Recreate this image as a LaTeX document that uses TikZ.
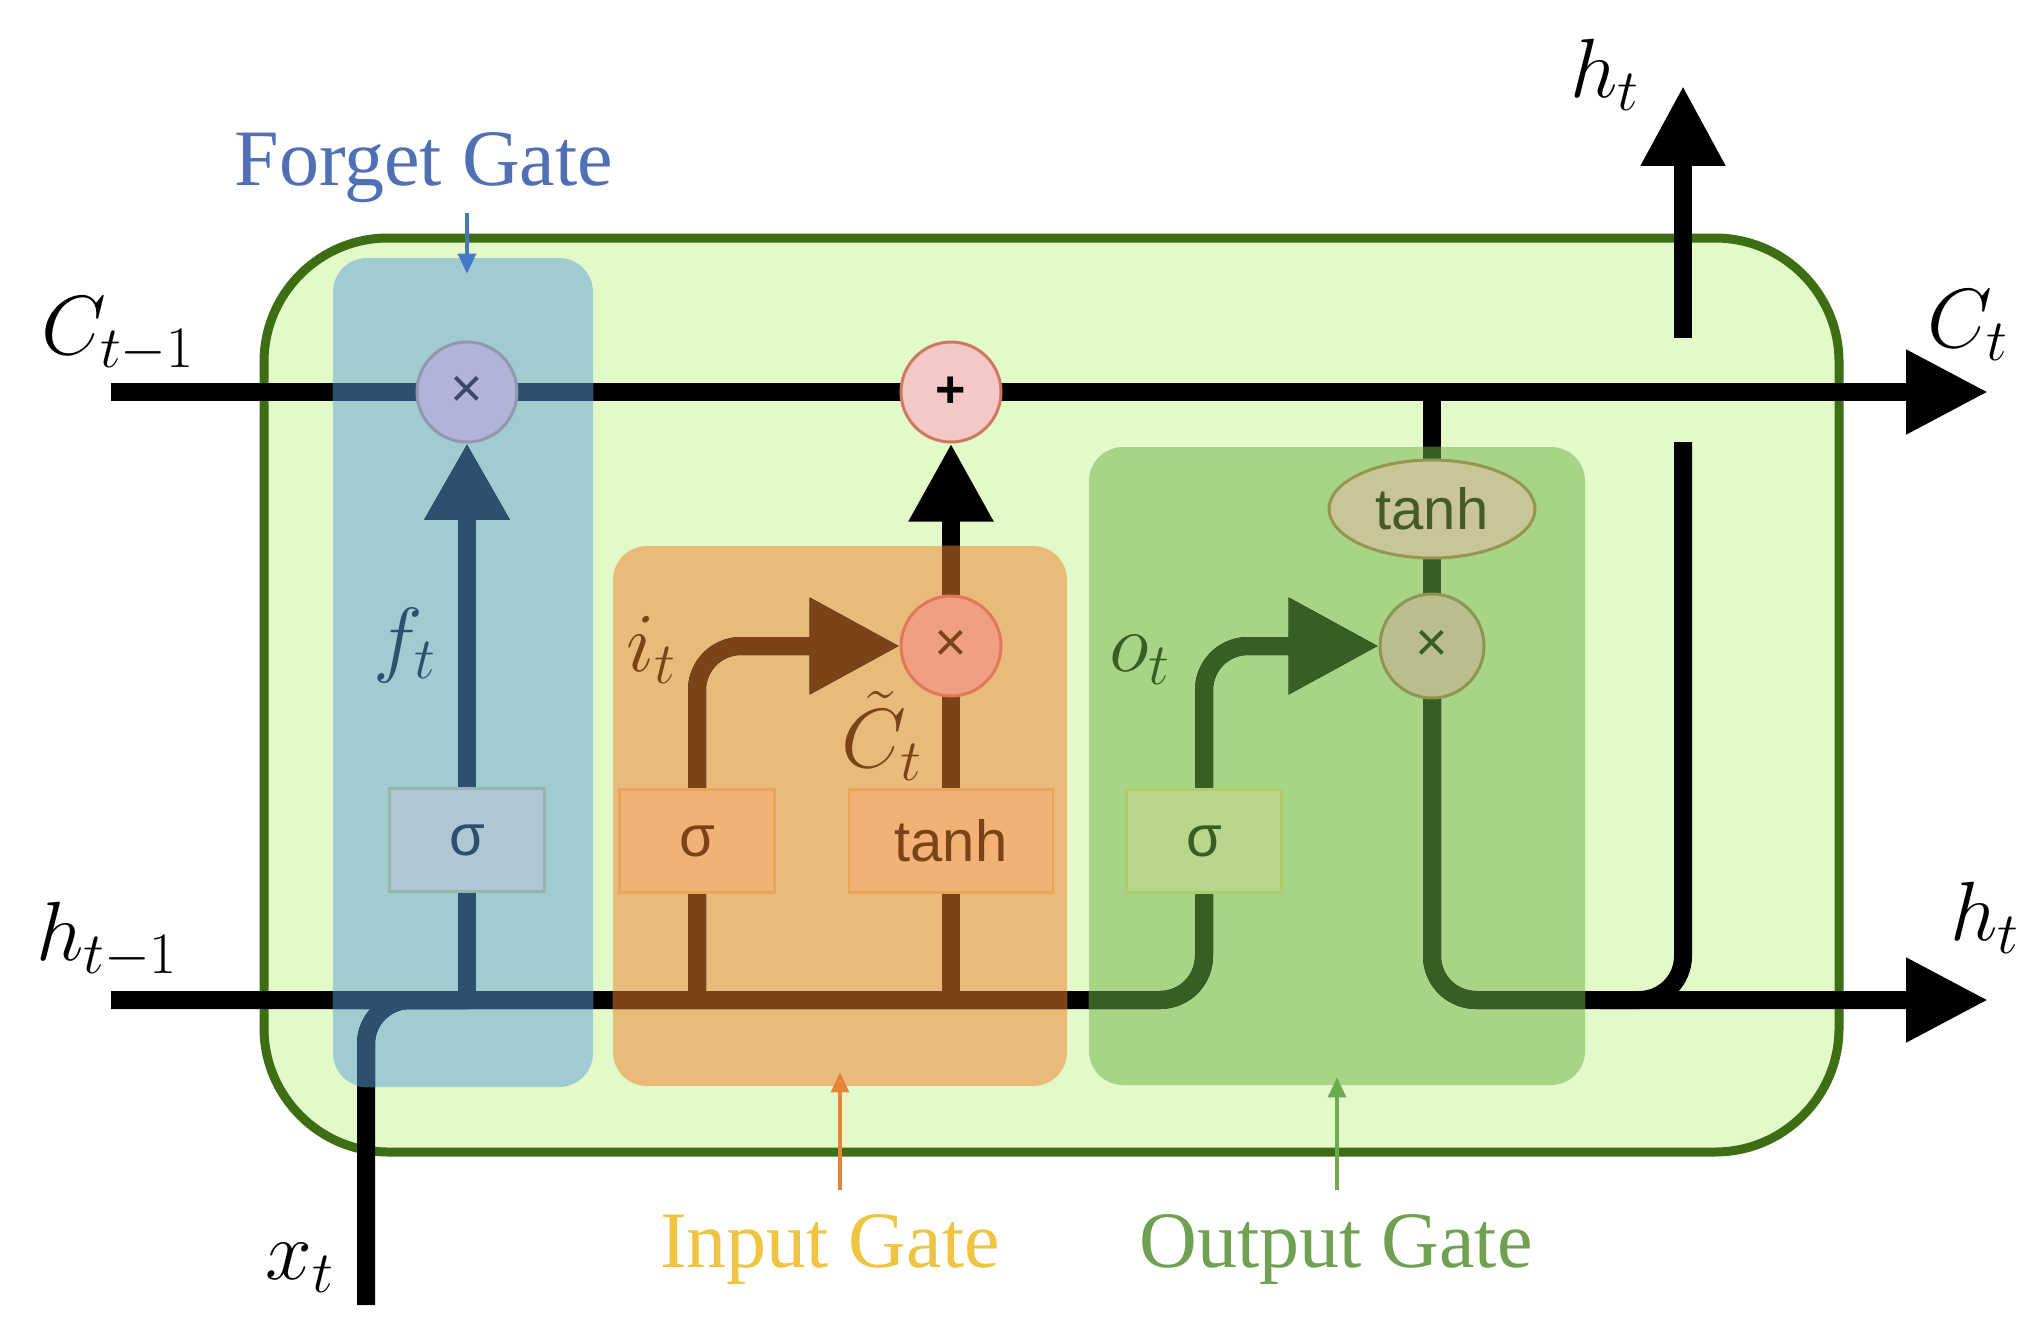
\RequirePackage{fix-cm}
\documentclass[tikz,border=0pt]{standalone}
\usepackage{fontspec}
\setmainfont{Liberation Serif}
\newfontfamily\lsans{Liberation Sans}
\usetikzlibrary{arrows.meta,shapes.geometric,calc}
\pgfdeclarelayer{bg}
\pgfdeclarelayer{lines}
\pgfsetlayers{bg,lines,main}

\definecolor{cellfill}{RGB}{226,250,200}
\definecolor{celldraw}{RGB}{62,110,20}
\definecolor{fgfill}{RGB}{160,203,208}
\definecolor{infill}{RGB}{232,187,122}
\definecolor{outfill}{RGB}{168,212,136}
\definecolor{fgdark}{RGB}{45,80,110}
\definecolor{indark}{RGB}{122,68,24}
\definecolor{outdark}{RGB}{55,95,35}
\definecolor{fglabc}{RGB}{80,112,182}
\definecolor{inlabc}{RGB}{238,196,64}
\definecolor{outlabc}{RGB}{112,160,82}
\definecolor{inarrc}{RGB}{232,130,56}
\definecolor{fgarrc}{RGB}{70,120,200}
\definecolor{outarrc}{RGB}{110,170,80}
\colorlet{flowc}{black}

\newcommand\lstmflows{%
  \draw[flow,-{Triangle[length=41pt,width=40pt]}] (cin) -- (fx.center) -- (plus.center) -- (cout);
  \draw[flow,rounded corners=22pt,-{Triangle[length=45pt,width=46pt]}] (hin) -| (os |- ox) -- (ox.west);
  \draw[flow,rounded corners=22pt] (xin) |- (fs |- hin);
  \draw[flow,-{Triangle[length=38pt,width=40pt]}] (fs |- hin) -- (fx.south);
  \draw[flow,rounded corners=22pt,-{Triangle[length=45pt,width=46pt]}] (is |- hin) -- (is |- ix) -- (ix.west);
  \draw[flow] (it |- hin) -- (ix.center);
  \draw[flow,-{Triangle[length=39pt,width=40pt]}] (ix.north) -- (plus.south);
  \draw[flow] (ot |- cin) -- (ox.center);
  \draw[flow,rounded corners=22pt,-{Triangle[length=41pt,width=40pt]}] (ox.center) |- (hout);
  \draw[flow,rounded corners=22pt] (hbr) -| (gapb);
  \draw[flow,-{Triangle[length=40pt,width=40pt]}] (gapt) -- (hup);
}

\begin{document}
\begin{tikzpicture}[x=0.5pt,y=-0.5pt,
  flow/.style={line width=9pt, draw=flowc},
  gatebox/.style={rectangle, rounded corners=17pt, inner sep=0pt},
  opcirc/.style={circle, minimum size=50pt, inner sep=0pt, line width=1.5pt, font=\lsans\fontsize{28}{30}\selectfont},
  actbox/.style={rectangle, minimum height=51.5pt, inner sep=0pt, line width=1.2pt, font=\lsans\fontsize{29}{32}\selectfont},
  mlab/.style={inner sep=0pt, font=\fontsize{42}{50}\selectfont},
  glab/.style={inner sep=0pt, anchor=base, font=\fontsize{40}{48}\selectfont},
  thinarr/.style={line width=1.6pt, -{Triangle[length=10pt,width=9pt]}}
]
\useasboundingbox (0,0) rectangle (2037,1332);

\begin{pgfonlayer}{bg}
\fill[white] (0,0) rectangle (2037,1332);
\node[rectangle, rounded corners=62pt, minimum width=787.5pt, minimum height=457pt,
      fill=cellfill, draw=celldraw, line width=4.5pt] (cell) at (1051.5,695) {};
\node[gatebox, fill=fgfill, minimum width=130pt, minimum height=414.5pt] (fgbox) at (463,672.5) {};
\node[gatebox, fill=infill, minimum width=227pt, minimum height=270pt] (inbox) at (840,816) {};
\node[gatebox, fill=outfill, minimum width=248pt, minimum height=319pt] (outbox) at (1337,766) {};
\end{pgfonlayer}

% operation nodes
\node[opcirc, fill={rgb,255:red,176;green,180;blue,216}, draw={rgb,255:red,148;green,150;blue,172}, text={rgb,255:red,60;green,72;blue,104}] (fx) at (467,392) {×};
\node[opcirc, fill={rgb,255:red,245;green,200;blue,200}, draw={rgb,255:red,205;green,120;blue,100}, font=\lsans\bfseries\fontsize{26}{30}\selectfont] (plus) at (951,392) {+};
\node[opcirc, fill={rgb,255:red,240;green,160;blue,130}, draw={rgb,255:red,225;green,120;blue,90}, text=indark] (ix) at (951,646) {×};
\node[opcirc, minimum size=52pt, fill={rgb,255:red,185;green,190;blue,140}, draw={rgb,255:red,140;green,150;blue,80}, text=outdark] (ox) at (1432,646) {×};
\node[ellipse, minimum width=103pt, minimum height=49pt, inner sep=0pt, line width=1.5pt,
      fill={rgb,255:red,200;green,198;blue,150}, draw={rgb,255:red,150;green,150;blue,80},
      text={rgb,255:red,70;green,90;blue,40}, font=\lsans\fontsize{29}{32}\selectfont] (ot) at (1432,509) {tanh};

\node[actbox, minimum width=77.5pt, fill={rgb,255:red,176;green,198;blue,212}, draw={rgb,255:red,150;green,180;blue,170}, text=fgdark] (fs) at (467,840) {σ};
\node[actbox, minimum width=77.5pt, fill={rgb,255:red,242;green,178;blue,118}, draw={rgb,255:red,235;green,165;blue,90}, text=indark] (is) at (697,841) {σ};
\node[actbox, minimum width=102pt, fill={rgb,255:red,242;green,178;blue,118}, draw={rgb,255:red,235;green,165;blue,90}, text=indark] (it) at (951,841) {tanh};
\node[actbox, minimum width=77.5pt, fill={rgb,255:red,184;green,214;blue,140}, draw={rgb,255:red,175;green,205;blue,110}, text=outdark] (os) at (1204,841) {σ};

% free ends
\coordinate (cin) at (111,392);
\coordinate (cout) at (1988,392);
\coordinate (hin) at (111,1000);
\coordinate (hout) at (1988,1000);
\coordinate (xin) at (366,1305);
\coordinate (hbr) at (1600,1000);
\coordinate (gapb) at (1683,442);
\coordinate (gapt) at (1683,338);
\coordinate (hup) at (1683,86);

\begin{pgfonlayer}{lines}
\lstmflows
\begin{scope}
  \clip[rounded corners=17pt] (fgbox.south west) rectangle (fgbox.north east);
  \colorlet{flowc}{fgdark}\lstmflows
\end{scope}
\begin{scope}
  \clip[rounded corners=17pt] (inbox.south west) rectangle (inbox.north east);
  \colorlet{flowc}{indark}\lstmflows
\end{scope}
\begin{scope}
  \clip[rounded corners=17pt] (outbox.south west) rectangle (outbox.north east);
  \colorlet{flowc}{outdark}\lstmflows
\end{scope}
\end{pgfonlayer}

% math labels
\node[mlab] (lcin) at (118,335) {$C_{t-1}$};
\node[mlab] (lhin) at (107,940) {$h_{t-1}$};
\node[mlab] (lxin) at (300,1268) {$x_t$};
\node[mlab] (lhup) at (1605,75) {$h_t$};
\node[mlab] (lcout) at (1968,325) {$C_t$};
\node[mlab] (lhout) at (1985,918) {$h_t$};
\node[mlab, text=fgdark] (lft) at (405,645) {$f_t$};
\node[mlab, text=indark] (lit) at (651,650) {$i_t$};
\node[mlab, text=indark] (lct) at (882,736) {$\tilde{C}_t$};
\node[mlab, text=outdark] (lot) at (1140,660) {$o_t$};

% gate labels
\node[glab, text=fglabc] (fglab) at (424,185) {Forget Gate};
\node[glab, text=inlabc] (inlab) at (830,1267) {Input Gate};
\node[glab, text=outlabc] (outlab) at (1336,1267) {Output Gate};
\draw[thinarr, draw=fgarrc, fill=fgarrc] ([yshift=-5pt]fglab.south -| fx) -- ([yshift=-8pt]fgbox.north -| fx);
\draw[thinarr, draw=inarrc, fill=inarrc] ([yshift=12pt]inlab.north -| inbox) -- ([yshift=7pt]inbox.south);
\draw[thinarr, draw=outarrc, fill=outarrc] ([yshift=12pt]outlab.north -| outbox) -- ([yshift=4pt]outbox.south);
\end{tikzpicture}
\end{document}
